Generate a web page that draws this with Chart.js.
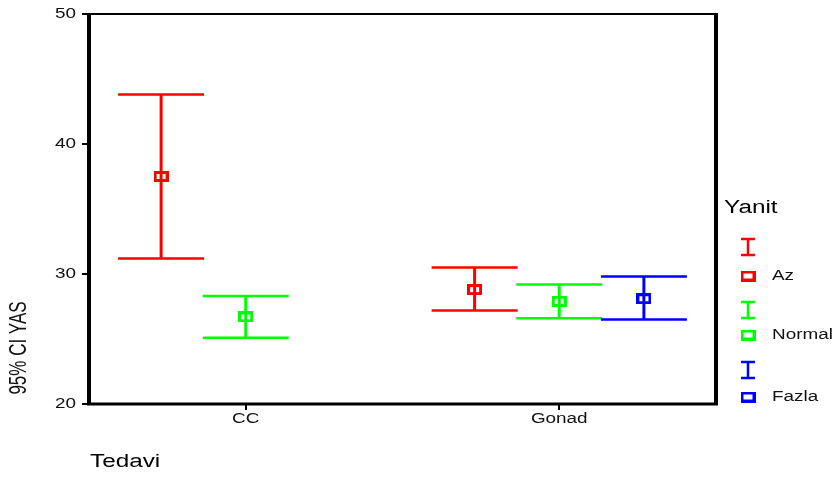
<!DOCTYPE html>
<html>
<head>
<meta charset="utf-8">
<script src="https://cdn.jsdelivr.net/npm/chart.js@4"></script>
<style>
  html, body { margin: 0; padding: 0; background: #fff; }
  #wrap { width: 838px; height: 477px; }
</style>
</head>
<body>
<div id="wrap"><canvas id="errChart" width="838" height="477"></canvas></div>
<script>
// values
const categories = ['CC', 'Gonad'];
const seriesNames = ['Az', 'Normal', 'Fazla'];
const seriesColors = ['#ff0000', '#00ff00', '#0000ff'];
const yTicks = [20, 30, 40, 50];

const azMean = [37.5, 28.8];
const azLower = [31.2, 27.2];
const azUpper = [43.8, 30.5];

const normalMean = [26.7, 27.9];
const normalLower = [25.1, 26.6];
const normalUpper = [28.3, 29.2];

const fazlaMean = [null, 28.1];
const fazlaLower = [null, 26.5];
const fazlaUpper = [null, 29.8];

const means = [azMean, normalMean, fazlaMean];
const lowers = [azLower, normalLower, fazlaLower];
const uppers = [azUpper, normalUpper, fazlaUpper];

const FONT = "'Liberation Sans', Arial, sans-serif";
const STRETCH = 1.35;
const groupShift = [-0.54, 0, 0.54];

function markerImage(color) {
    const c = document.createElement('canvas');
    c.width = 15; c.height = 11;
    const g = c.getContext('2d');
    g.strokeStyle = color;
    g.lineWidth = 3;
    g.strokeRect(1.5, 1.5, 12, 8);
    return c;
}

function wideText(ctx, text, x, y, size, align, color) {
    ctx.save();
    ctx.translate(x, y);
    ctx.scale(STRETCH, 1);
    ctx.font = size + 'px ' + FONT;
    ctx.fillStyle = color || '#111';
    ctx.textAlign = align;
    ctx.textBaseline = 'middle';
    ctx.fillText(text, 0, 0);
    ctx.restore();
}

const datasets = seriesNames.map((name, s) => {
    const pts = [], lo = [], hi = [];
    categories.forEach((c, i) => {
        if (means[s][i] == null) return;
        pts.push({ x: 2 * i + 1 + groupShift[s], y: means[s][i] });
        lo.push(lowers[s][i]);
        hi.push(uppers[s][i]);
    });
    return {
        label: name,
        data: pts,
        errLow: lo,
        errHigh: hi,
        pointStyle: markerImage(seriesColors[s]),
        borderColor: seriesColors[s],
        backgroundColor: seriesColors[s],
        color: seriesColors[s]
    };
});

const errorBars = {
    id: 'errorBars',
    beforeDatasetsDraw(chart) {
        const ctx = chart.ctx;
        const yScale = chart.scales.y;
        chart.data.datasets.forEach((ds, di) => {
            const meta = chart.getDatasetMeta(di);
            meta.data.forEach((pt, j) => {
                const x = pt.x;
                const yl = yScale.getPixelForValue(ds.errLow[j]);
                const yh = yScale.getPixelForValue(ds.errHigh[j]);
                ctx.save();
                ctx.strokeStyle = ds.color;
                ctx.lineWidth = 3;
                ctx.beginPath();
                ctx.moveTo(x, yl); ctx.lineTo(x, yh);
                ctx.stroke();
                ctx.lineWidth = 2.5;
                ctx.beginPath();
                ctx.moveTo(x - 43, yl); ctx.lineTo(x + 43, yl);
                ctx.moveTo(x - 43, yh); ctx.lineTo(x + 43, yh);
                ctx.stroke();
                ctx.restore();
            });
        });
    }
};

const decorations = {
    id: 'decorations',
    afterDraw(chart) {
        const ctx = chart.ctx;
        const a = chart.chartArea;
        const xs = chart.scales.x, ys = chart.scales.y;

        // frame
        ctx.save();
        ctx.strokeStyle = '#000';
        ctx.lineWidth = 4;
        ctx.beginPath();
        ctx.moveTo(a.left, a.top); ctx.lineTo(a.left, a.bottom + 1);
        ctx.moveTo(a.right, a.top); ctx.lineTo(a.right, a.bottom + 1);
        ctx.stroke();
        ctx.lineWidth = 3;
        ctx.beginPath();
        ctx.moveTo(a.left - 2, a.bottom); ctx.lineTo(a.right + 2, a.bottom);
        ctx.stroke();
        ctx.lineWidth = 2;
        ctx.beginPath();
        ctx.moveTo(a.left - 2, a.top); ctx.lineTo(a.right + 2, a.top);
        ctx.stroke();
        ctx.restore();

        // tick labels
        ys.ticks.forEach(t => {
            wideText(ctx, String(t.value), a.left - 13, ys.getPixelForValue(t.value), 14, 'right');
        });
        xs.ticks.forEach((t, i) => {
            wideText(ctx, categories[i], xs.getPixelForValue(t.value), a.bottom + 15, 14, 'center');
        });

        // axis titles
        wideText(ctx, 'Tedavi', 90, 462, 18, 'left', '#000');
        ctx.save();
        ctx.translate(19, 348);
        ctx.rotate(-Math.PI / 2);
        ctx.scale(1, 1.45);
        ctx.font = '17px ' + FONT;
        ctx.fillStyle = '#111';
        ctx.textAlign = 'center';
        ctx.textBaseline = 'middle';
        ctx.fillText('95% CI YAS', 0, 0);
        ctx.restore();

        // legend
        wideText(ctx, 'Yanit', 724, 208, 18, 'left', '#000');
        const rowY = [[247, 276], [310, 335], [370, 397]];
        chart.data.datasets.forEach((ds, i) => {
            const cx = 748;
            const iy = rowY[i][0];
            ctx.save();
            ctx.strokeStyle = ds.color;
            ctx.lineWidth = 2.5;
            ctx.beginPath();
            ctx.moveTo(cx - 7, iy - 8); ctx.lineTo(cx + 7, iy - 8);
            ctx.moveTo(cx - 7, iy + 8); ctx.lineTo(cx + 7, iy + 8);
            ctx.moveTo(cx, iy - 8); ctx.lineTo(cx, iy + 8);
            ctx.stroke();
            ctx.restore();
            const img = ds.pointStyle;
            ctx.drawImage(img, cx - img.width / 2, rowY[i][1] - img.height / 2);
            wideText(ctx, ds.label, 772, rowY[i][1], 14, 'left');
        });
    }
};

new Chart(document.getElementById('errChart').getContext('2d'), {
    type: 'scatter',
    data: { datasets: datasets },
    options: {
        responsive: false,
        animation: false,
        layout: { padding: { left: 82, right: 122, top: 14, bottom: 67 } },
        scales: {
            x: {
                type: 'linear',
                min: 0,
                max: 2 * categories.length,
                afterBuildTicks: (scale) => {
                    scale.ticks = categories.map((c, i) => ({ value: 2 * i + 1 }));
                },
                ticks: { display: false },
                border: { display: false },
                grid: { drawOnChartArea: false, drawTicks: true, tickLength: 6, color: '#000', lineWidth: 2 }
            },
            y: {
                min: yTicks[0],
                max: yTicks[yTicks.length - 1],
                afterBuildTicks: (scale) => {
                    scale.ticks = yTicks.map(v => ({ value: v }));
                },
                ticks: { display: false },
                border: { display: false },
                grid: { drawOnChartArea: false, drawTicks: true, tickLength: 7, color: '#000', lineWidth: 2 }
            }
        },
        plugins: {
            legend: { display: false },
            tooltip: { enabled: false }
        }
    },
    plugins: [errorBars, decorations]
});
</script>
</body>
</html>
